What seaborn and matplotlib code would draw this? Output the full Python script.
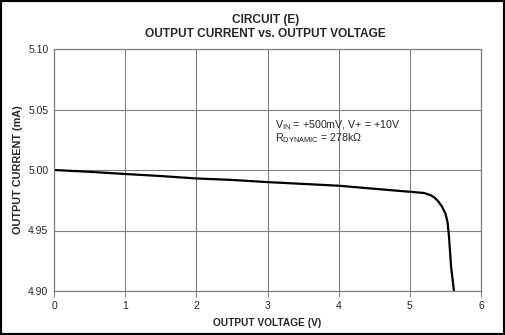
import matplotlib
matplotlib.use("Agg")
import matplotlib.pyplot as plt
import seaborn as sns
import pandas as pd
from matplotlib.patches import Rectangle

voltage = [0.0, 0.5, 1.0, 1.5, 2.0, 2.5, 3.0, 3.5, 4.0, 4.5, 5.0, 5.2, 5.3, 5.35, 5.4, 5.45, 5.5, 5.53, 5.55, 5.58, 5.62]
current = [5.000, 4.9985, 4.9967, 4.995, 4.993, 4.9918, 4.990, 4.9885, 4.987, 4.9845, 4.982, 4.981, 4.979, 4.977, 4.974, 4.970, 4.964, 4.957, 4.945, 4.920, 4.900]
x_ticks = [0, 1, 2, 3, 4, 5, 6]
y_ticks = [4.90, 4.95, 5.00, 5.05, 5.10]

sns.set_theme(style="white")
plt.rcParams['font.family'] = ['Liberation Sans', 'DejaVu Sans']
plt.rcParams['mathtext.fontset'] = 'custom'
plt.rcParams['mathtext.rm'] = 'Liberation Sans'
plt.rcParams['mathtext.it'] = 'Liberation Sans'

fig = plt.figure(figsize=(5.05, 3.35), dpi=100)
ax = fig.add_axes([54/505, 1-291/335, (481-54)/505, (291-49)/335])

df = pd.DataFrame({"V": voltage, "I": current})
sns.lineplot(data=df, x="V", y="I", ax=ax, color="black", linewidth=1.6)

ax.set_xlim(0, 6)
ax.set_ylim(4.90, 5.10)
ax.set_xticks(x_ticks)
ax.set_yticks(y_ticks)
ax.set_xticklabels([str(t) for t in x_ticks], fontsize=7.5)
ax.set_yticklabels([f"{t:.2f}" for t in y_ticks], fontsize=7.5)
ax.grid(True, color="#808080", linewidth=0.8)
for s in ax.spines.values():
    s.set_color("#808080")
    s.set_linewidth(0.9)
ax.tick_params(axis='x', direction='out', length=4, width=0.8, color="#808080", pad=3, bottom=True)
ax.tick_params(axis='y', length=0, pad=4, left=True)

ax.set_xlabel("OUTPUT VOLTAGE (V)", fontsize=7.3, fontweight='bold', labelpad=5)
ax.set_ylabel("OUTPUT CURRENT (mA)", fontsize=7.8, fontweight='bold', labelpad=4)

fig.text(0.525, 1-20/335, "CIRCUIT (E)", ha='center', va='center', fontsize=8.6, fontweight='bold')
fig.text(0.525, 1-34/335, "OUTPUT CURRENT vs. OUTPUT VOLTAGE", ha='center', va='center', fontsize=8.6, fontweight='bold')

ax.text(3.11, 5.037, r"V$_{\mathrm{IN}}$ = +500mV, V+ = +10V", fontsize=7.7, va='center', ha='left')
ax.text(3.11, 5.026, r"R$_{\mathrm{DYNAMIC}}$ = 278kΩ", fontsize=7.7, va='center', ha='left')

fig.patches.append(Rectangle((0, 0), 1, 1, transform=fig.transFigure, fill=False,
                             edgecolor='black', linewidth=3, zorder=10))

fig.savefig("out.png", dpi=100)
